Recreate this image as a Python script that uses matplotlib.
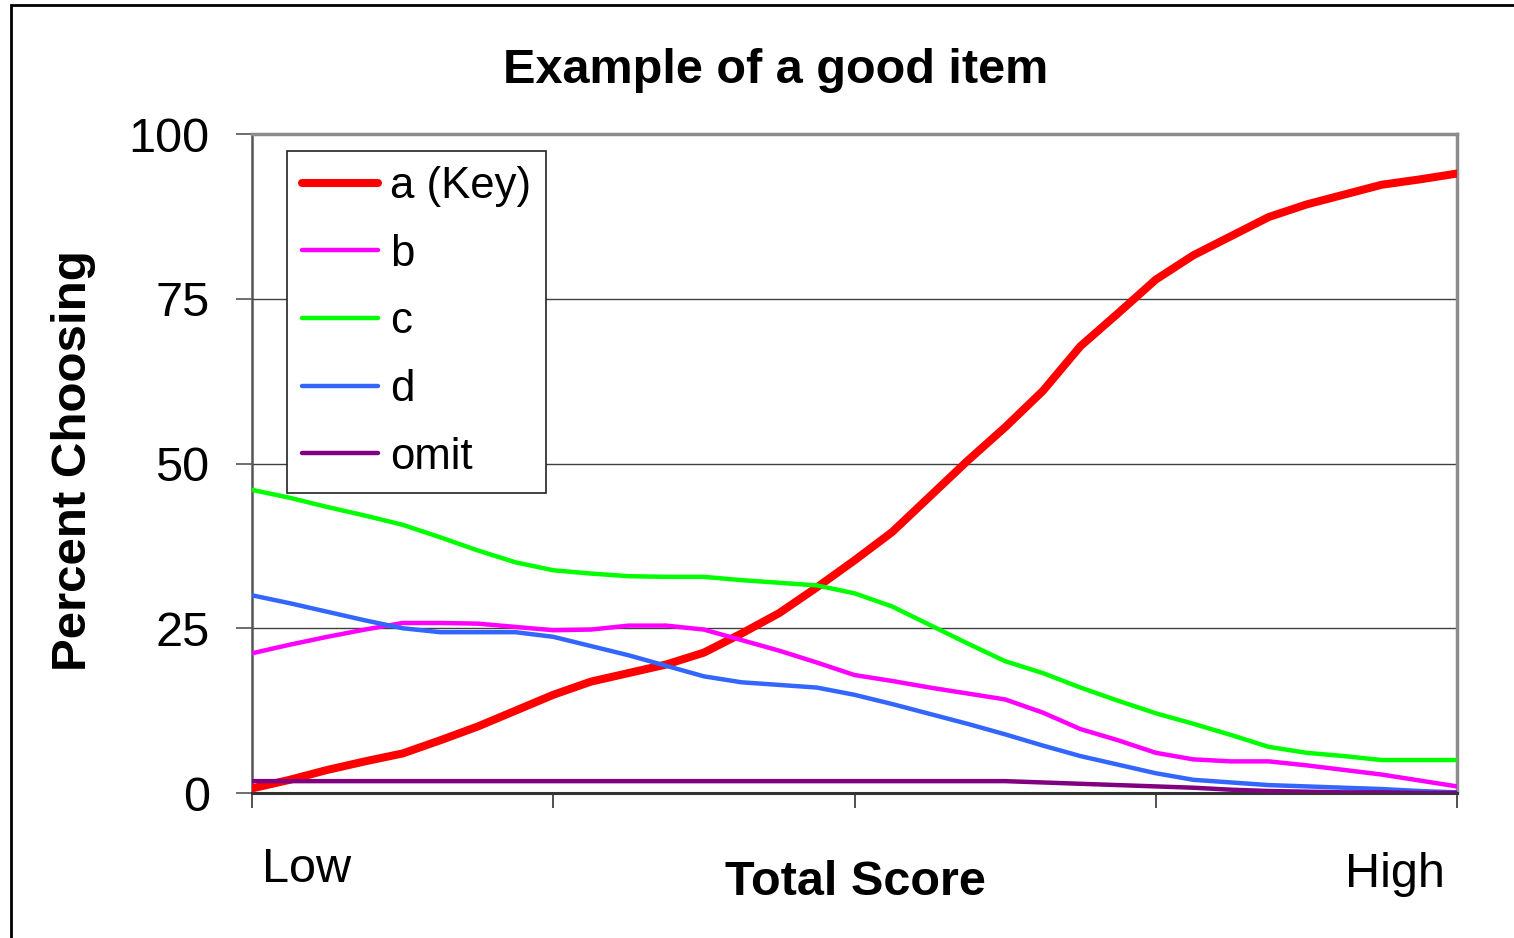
import matplotlib
matplotlib.use("Agg")
import matplotlib.pyplot as plt
from matplotlib.lines import Line2D
from matplotlib.patches import Rectangle

plt.rcParams["font.family"] = ["Liberation Sans", "DejaVu Sans"]

# score groups, low -> high
score_groups = list(range(33))
xtick_groups = [0, 8, 16, 24, 32]
ytick_values = [0, 25, 50, 75, 100]

# percent choosing each option
pct_a = [0.7, 2.0, 3.5, 4.8, 6.0, 8.0, 10.1, 12.5, 14.9, 16.9, 18.2, 19.5, 21.3,
         24.2, 27.3, 31.2, 35.3, 39.6, 45.0, 50.4, 55.5, 61.0, 67.8, 72.8, 77.9,
         81.6, 84.5, 87.4, 89.3, 90.8, 92.3, 93.1, 94.0]
pct_b = [21.2, 22.5, 23.7, 24.8, 25.8, 25.8, 25.7, 25.2, 24.7, 24.8, 25.4, 25.4,
         24.8, 23.2, 21.6, 19.8, 17.9, 17.0, 16.0, 15.1, 14.2, 12.2, 9.7, 8.0,
         6.1, 5.1, 4.8, 4.8, 4.2, 3.5, 2.8, 1.9, 1.0]
pct_c = [46.0, 44.8, 43.4, 42.1, 40.7, 38.8, 36.8, 35.0, 33.8, 33.3, 32.9, 32.8,
         32.8, 32.3, 31.9, 31.5, 30.3, 28.3, 25.5, 22.7, 20.0, 18.2, 16.0, 14.0,
         12.1, 10.5, 8.8, 7.0, 6.1, 5.6, 5.0, 5.0, 5.0]
pct_d = [30.0, 28.8, 27.5, 26.2, 25.0, 24.4, 24.4, 24.4, 23.7, 22.3, 20.9, 19.3,
         17.7, 16.8, 16.4, 16.0, 14.9, 13.5, 12.0, 10.5, 8.9, 7.2, 5.6, 4.3,
         3.0, 2.0, 1.6, 1.2, 1.0, 0.8, 0.6, 0.3, 0.1]
pct_omit = [1.8] * 21 + [1.6, 1.4, 1.2, 1.0, 0.8, 0.5, 0.3, 0.2, 0.1, 0.1, 0.0, 0.0]

labels = ["a (Key)", "b", "c", "d", "omit"]
colors = ["#FF0000", "#FF00FF", "#00FF00", "#3366FF", "#800080"]
widths = [5.8, 3.2, 3.2, 3.2, 3.2]

fig = plt.figure(figsize=(15.14, 9.38), dpi=100, facecolor="white")
ax = fig.add_axes([252 / 1514, 1 - 793 / 938, 1205 / 1514, 659 / 938])

series = [pct_a, pct_b, pct_c, pct_d, pct_omit]
# draw b, c, d first, then the key, then omit on top
for idx in [1, 2, 3, 0, 4]:
    ax.plot(score_groups, series[idx], color=colors[idx], lw=widths[idx],
            solid_joinstyle="round", zorder=3 + idx * 0.1)

ax.set_xlim(0, 32)
ax.set_ylim(0, 100)
ax.set_xticks(xtick_groups)
ax.set_xticklabels([])
ax.set_yticks(ytick_values)
ax.set_yticklabels([str(v) for v in ytick_values], fontsize=35)
ax.tick_params(axis="y", direction="out", length=11.5, width=1.2, pad=19, color="#555555")
ax.tick_params(axis="x", direction="out", length=11, width=1.2, color="#333333")

ax.grid(axis="y", color="#404040", lw=1.0)
ax.set_axisbelow(True)

ax.spines["top"].set_color("#8c8c8c")
ax.spines["right"].set_color("#8c8c8c")
ax.spines["top"].set_linewidth(2.5)
ax.spines["right"].set_linewidth(2.5)
ax.spines["left"].set_color("#555555")
ax.spines["left"].set_linewidth(1.8)
ax.spines["bottom"].set_color("#333333")
ax.spines["bottom"].set_linewidth(2.2)

handles = [Line2D([], [], color=c, lw=w, solid_capstyle="round")
           for c, w in zip(colors, widths)]
leg = ax.legend(handles, labels, loc="upper left",
                bbox_to_anchor=((287 - 252) / 1205, (793 - 151) / 659),
                borderaxespad=0, fontsize=31.5, handlelength=1.74,
                handletextpad=0.27, labelspacing=0.61, borderpad=0.34,
                fancybox=False, framealpha=1, edgecolor="#222222")
leg.get_frame().set_linewidth(1.2)
leg.set_zorder(10)

fig.text(776 / 1514, 1 - 83 / 938, "Example of a good item", fontsize=35,
         fontweight="bold", ha="center", va="baseline")
fig.text(74 / 1514, 1 - 461 / 938, "Percent Choosing", fontsize=35.5,
         fontweight="bold", rotation=90, ha="center", va="center")
fig.text(855 / 1514, 1 - 895 / 938, "Total Score", fontsize=35,
         fontweight="bold", ha="center", va="baseline")
fig.text(262 / 1514, 1 - 882 / 938, "Low", fontsize=35, ha="left", va="baseline")
fig.text(1445 / 1514, 1 - 887 / 938, "High", fontsize=35, ha="right", va="baseline")

# outer frame of the slide
fig.add_artist(Rectangle((11 / 1514, -0.05), 1.2, (938 - 5) / 938 + 0.05,
                         transform=fig.transFigure, fill=False,
                         edgecolor="black", lw=2))

fig.savefig("out.png", dpi=100, facecolor="white")
